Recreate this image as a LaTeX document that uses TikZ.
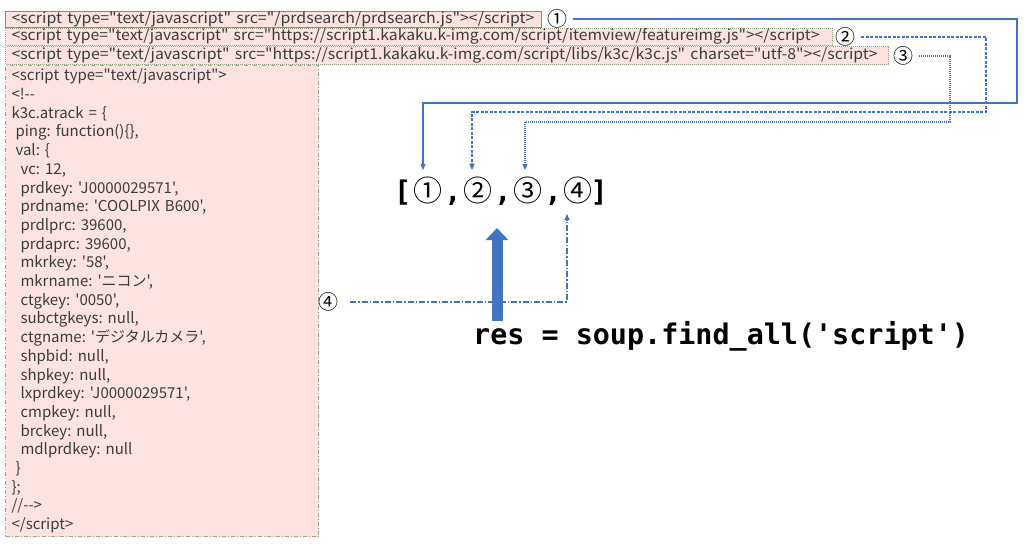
\documentclass[tikz,border=0pt]{standalone}
\usepackage{fontspec}
\usepackage{graphicx}
\usetikzlibrary{arrows.meta}
\newfontfamily\boxfont{Noto Sans CJK JP}[Ligatures=TeXOff]
\newfontfamily\cjkfont{Noto Sans CJK JP}[Ligatures=TeXOff]
\setmonofont{DejaVu Sans Mono}
\definecolor{boxfill}{HTML}{FDE2E2}
\definecolor{boxedge}{HTML}{7E9566}
\definecolor{boxedgelt}{HTML}{9AA88A}
\definecolor{conblue}{HTML}{4472C4}
\definecolor{txtgray}{HTML}{3C3C3C}
\newcommand{\cnum}[1]{\makebox[33pt]{\cjkfont\mdseries\fontsize{29}{29}\selectfont #1}}
\newcommand{\ind}[1]{\hspace*{#1pt}}
\newcommand{\fitw}[2]{\resizebox{#1}{\height}{#2}}
\tikzset{
  codebox/.style={fill=boxfill, text=txtgray, font=\boxfont\fontsize{15}{18.7}\selectfont\frenchspacing,
    anchor=north west, inner xsep=6pt, inner ysep=0pt, align=left},
  oneline/.style={text height=11pt, text depth=3.5pt},
  mark1/.style={codebox, oneline, draw=boxedge, line width=1.1pt},
  mark2/.style={codebox, oneline, draw=boxedgelt, line width=1.1pt, dash pattern=on 1pt off 1pt},
  mark4/.style={codebox, draw=boxedgelt, line width=1.1pt, dash pattern=on 4pt off 2pt on 1pt off 2pt},
  circnum/.style={font=\cjkfont\fontsize{20}{20}\selectfont, text=black, inner xsep=6pt, inner ysep=0pt},
  conn/.style={draw=conblue, line width=1.2pt, -{Triangle[length=6pt,width=5pt]}},
  connA/.style={conn},
  connB/.style={conn, dash pattern=on 3pt off 1.5pt},
  connC/.style={conn, dash pattern=on 1pt off 1pt},
  connD/.style={conn, dash pattern=on 6pt off 2pt on 1.5pt off 2pt},
  bigarrow/.style={draw=conblue, line width=11pt, -{Triangle[length=12pt,width=22pt]}},
  codetext/.style={font=\ttfamily\bfseries\fontsize{28.4}{28.4}\selectfont, text=black, inner sep=0pt}
}
\begin{document}
\begin{tikzpicture}[x=1pt,y=-1pt]
\useasboundingbox (0,0) rectangle (1024,544);
% code boxes
\node[mark1, minimum width=536pt, text width=524pt, minimum height=16pt] (b1) at (5,11)
  {\fitw{523pt}{<script type="text/javascript" src="/prdsearch/prdsearch.js"></script>}};
\node[mark2, minimum width=827pt, text width=815pt, minimum height=17pt] (b2) at (5,28)
  {\fitw{808pt}{<script type="text/javascript" src="https://script1.kakaku.k-img.com/script/itemview/featureimg.js"></script>}};
\node[mark2, minimum width=883pt, text width=871pt, minimum height=18pt] (b3) at (5,46)
  {\fitw{866pt}{<script type="text/javascript" src="https://script1.kakaku.k-img.com/script/libs/k3c/k3c.js" charset="utf-8"></script>}};
\node[mark4, text width=301pt, minimum height=471pt] (b4) at (5,65)
  {<script type="text/javascript">\\
   <!--\\
   k3c.atrack = \{\\
   \ind{4}ping: function()\{\},\\
   \ind{4}val: \{\\
   \ind{9}vc: 12,\\
   \ind{9}prdkey: 'J0000029571',\\
   \ind{9}prdname: 'COOLPIX B600',\\
   \ind{9}prdlprc: 39600,\\
   \ind{9}prdaprc: 39600,\\
   \ind{9}mkrkey: '58',\\
   \ind{9}mkrname: 'ニコン',\\
   \ind{9}ctgkey: '0050',\\
   \ind{9}subctgkeys: null,\\
   \ind{9}ctgname: 'デジタルカメラ',\\
   \ind{9}shpbid: null,\\
   \ind{9}shpkey: null,\\
   \ind{9}lxprdkey: 'J0000029571',\\
   \ind{9}cmpkey: null,\\
   \ind{9}brckey: null,\\
   \ind{9}mdlprdkey: null\\
   \ind{4}\}\\
   \};\\
   //-->\\
   </script>};
% circled markers
\node[circnum] (c1) at (557,19) {①};
\node[circnum] (c2) at (845,37) {②};
\node[circnum] (c3) at (903,56) {③};
\node[circnum] (c4) at (328,302) {④};
% result list and call
\node[codetext, anchor=base west] (lst) at (394,201)
  {[\cnum{①},\cnum{②},\cnum{③},\cnum{④}\hspace{-4pt}]};
\node[codetext, anchor=base west] (res) at (473,344) {res = soup.find\_all('script')};
% arrow targets
\coordinate (t1) at (423,170);
\coordinate (t2) at (472,170);
\coordinate (t3) at (525,170);
\coordinate (t4) at (567,214);
\coordinate (bigbase) at (497,321);
\coordinate (bigtip) at (497,228);
% connectors
\draw[connA] (c1.east) -| (1017,103) -| (t1);
\draw[connB] (c2.east) -| (986,112) -| (t2);
\draw[connC] (c3.east) -| (950,122) -| (t3);
\draw[connD, shorten <=6pt] (c4.east) -| (t4);
\draw[bigarrow] (bigbase) -- (bigtip);
\end{tikzpicture}
\end{document}
